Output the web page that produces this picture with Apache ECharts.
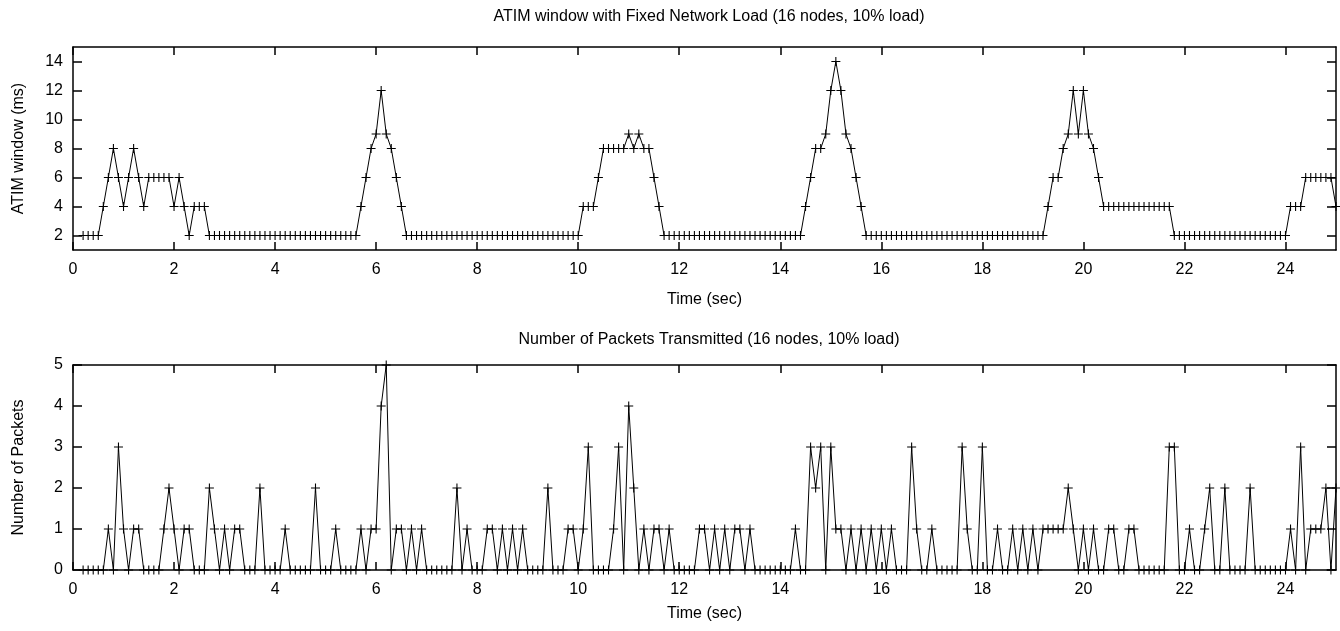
<!DOCTYPE html>
<html>
<head>
<meta charset="utf-8">
<script src="https://cdn.jsdelivr.net/npm/echarts@6/dist/echarts.min.js"></script>
<style>
html, body { margin: 0; padding: 0; background: #fff; }
#chart { width: 1340px; height: 631px; }
</style>
</head>
<body>
<div id="chart"></div>
<script>
// samples every 0.1 sec, first one at 0.2 sec
var startTime = 0.2;
var step = 0.1;

// ATIM window (ms), one row per second (first row starts at 0.2)
var atimWindow = [
    2, 2, 2, 2, 4, 6, 8, 6,
    4, 6, 8, 6, 4, 6, 6, 6, 6, 6,
    4, 6, 4, 2, 4, 4, 4, 2, 2, 2,
    2, 2, 2, 2, 2, 2, 2, 2, 2, 2,
    2, 2, 2, 2, 2, 2, 2, 2, 2, 2,
    2, 2, 2, 2, 2, 2, 2, 4, 6, 8,
    9, 12, 9, 8, 6, 4, 2, 2, 2, 2,
    2, 2, 2, 2, 2, 2, 2, 2, 2, 2,
    2, 2, 2, 2, 2, 2, 2, 2, 2, 2,
    2, 2, 2, 2, 2, 2, 2, 2, 2, 2,
    2, 4, 4, 4, 6, 8, 8, 8, 8, 8,
    9, 8, 9, 8, 8, 6, 4, 2, 2, 2,
    2, 2, 2, 2, 2, 2, 2, 2, 2, 2,
    2, 2, 2, 2, 2, 2, 2, 2, 2, 2,
    2, 2, 2, 2, 2, 4, 6, 8, 8, 9,
    12, 14, 12, 9, 8, 6, 4, 2, 2, 2,
    2, 2, 2, 2, 2, 2, 2, 2, 2, 2,
    2, 2, 2, 2, 2, 2, 2, 2, 2, 2,
    2, 2, 2, 2, 2, 2, 2, 2, 2, 2,
    2, 2, 2, 4, 6, 6, 8, 9, 12, 9,
    12, 9, 8, 6, 4, 4, 4, 4, 4, 4,
    4, 4, 4, 4, 4, 4, 4, 4, 2, 2,
    2, 2, 2, 2, 2, 2, 2, 2, 2, 2,
    2, 2, 2, 2, 2, 2, 2, 2, 2, 2,
    2, 4, 4, 4, 6, 6, 6, 6, 6, 6,
    4
];

// number of packets transmitted, same time grid
var packets = [
    0, 0, 0, 0, 0, 1, 0, 3,
    1, 0, 1, 1, 0, 0, 0, 0, 1, 2,
    1, 0, 1, 1, 0, 0, 0, 2, 1, 0,
    1, 0, 1, 1, 0, 0, 0, 2, 0, 0,
    0, 0, 1, 0, 0, 0, 0, 0, 2, 0,
    0, 0, 1, 0, 0, 0, 0, 1, 0, 1,
    1, 4, 5, 0, 1, 1, 0, 1, 0, 1,
    0, 0, 0, 0, 0, 0, 2, 0, 1, 0,
    0, 0, 1, 1, 0, 1, 0, 1, 0, 1,
    0, 0, 0, 0, 2, 0, 0, 0, 1, 1,
    0, 1, 3, 0, 0, 0, 0, 1, 3, 0,
    4, 2, 0, 1, 0, 1, 1, 0, 1, 0,
    0, 0, 0, 0, 1, 1, 0, 1, 0, 1,
    0, 1, 1, 0, 1, 0, 0, 0, 0, 0,
    0, 0, 0, 1, 0, 0, 3, 2, 3, 0,
    3, 1, 1, 0, 1, 0, 1, 0, 1, 0,
    1, 0, 1, 0, 0, 0, 3, 1, 0, 0,
    1, 0, 0, 0, 0, 0, 3, 1, 0, 0,
    3, 0, 0, 1, 0, 0, 1, 0, 1, 0,
    1, 0, 1, 1, 1, 1, 1, 2, 1, 0,
    1, 0, 1, 0, 0, 1, 1, 0, 0, 1,
    1, 0, 0, 0, 0, 0, 0, 3, 3, 0,
    0, 1, 0, 0, 1, 2, 0, 0, 2, 0,
    0, 0, 0, 2, 0, 0, 0, 0, 0, 0,
    0, 1, 0, 3, 0, 1, 1, 1, 2, 0,
    2
];

var timeTicks = [0, 2, 4, 6, 8, 10, 12, 14, 16, 18, 20, 22, 24];
var atimTicks = [2, 4, 6, 8, 10, 12, 14];
var packetTicks = [0, 1, 2, 3, 4, 5];

var fontFamily = '"Liberation Sans", Arial, Helvetica, sans-serif';
var plusSymbol = 'path://M0,4.4H10V5.6H0Z M4.4,0H5.6V10H4.4Z';

function toPairs(values) {
    var out = [];
    for (var i = 0; i < values.length; i++) {
        out.push([Math.round((startTime + i * step) * 10) / 10, values[i]]);
    }
    return out;
}

var lineStyle = { color: '#000', width: 1.5 };
var textStyle = { color: '#000', fontSize: 16, fontFamily: fontFamily };

function timeAxis(gridIndex, position, nameGap) {
    return {
        type: 'value', gridIndex: gridIndex, position: position,
        min: 0, max: 25,
        name: position === 'bottom' ? 'Time (sec)' : '',
        nameLocation: 'middle', nameGap: nameGap,
        nameTextStyle: textStyle,
        axisLine: { show: true, onZero: false, lineStyle: lineStyle },
        axisTick: { show: true, inside: true, length: 8, lineStyle: lineStyle, customValues: timeTicks },
        axisLabel: { show: position === 'bottom', margin: 12, color: '#000', fontSize: 16, fontFamily: fontFamily, customValues: timeTicks },
        splitLine: { show: false }
    };
}

function valueAxis(gridIndex, position, min, max, ticks, name) {
    return {
        type: 'value', gridIndex: gridIndex, position: position,
        min: min, max: max,
        name: name, nameLocation: 'middle', nameGap: 46,
        nameTextStyle: textStyle,
        axisLine: { show: true, onZero: false, lineStyle: lineStyle },
        axisTick: { show: true, inside: true, length: 9, lineStyle: lineStyle, customValues: ticks },
        axisLabel: { show: position === 'left', margin: 10, color: '#000', fontSize: 16, fontFamily: fontFamily, customValues: ticks },
        splitLine: { show: false }
    };
}

function lineSeries(values, axisIndex) {
    return {
        type: 'line',
        xAxisIndex: axisIndex, yAxisIndex: axisIndex,
        data: toPairs(values),
        symbol: plusSymbol, symbolSize: 9,
        itemStyle: { color: '#000' },
        lineStyle: { color: '#000', width: 1 },
        clip: false,
        animation: false
    };
}

var myChart = echarts.init(document.getElementById('chart'), null, { renderer: 'canvas' });
var option = {
    backgroundColor: '#fff',
    animation: false,
    title: [
        { text: 'ATIM window with Fixed Network Load (16 nodes, 10% load)', left: 704, top: 4, textAlign: 'center',
          textStyle: { color: '#000', fontSize: 16, fontWeight: 'normal', fontFamily: fontFamily } },
        { text: 'Number of Packets Transmitted (16 nodes, 10% load)', left: 704, top: 327, textAlign: 'center',
          textStyle: { color: '#000', fontSize: 16, fontWeight: 'normal', fontFamily: fontFamily } }
    ],
    grid: [
        { left: 73, right: 4, top: 47, height: 203 },
        { left: 73, right: 4, top: 365, height: 205 }
    ],
    xAxis: [
        timeAxis(0, 'bottom', 42), timeAxis(0, 'top', 42),
        timeAxis(1, 'bottom', 36), timeAxis(1, 'top', 36)
    ],
    yAxis: [
        valueAxis(0, 'left', 1, 15, atimTicks, 'ATIM window (ms)'),
        valueAxis(0, 'right', 1, 15, atimTicks, ''),
        valueAxis(1, 'left', 0, 5, packetTicks, 'Number of Packets'),
        valueAxis(1, 'right', 0, 5, packetTicks, '')
    ],
    series: [
        lineSeries(atimWindow, 0),
        lineSeries(packets, 2)
    ]
};
myChart.setOption(option);
</script>
</body>
</html>
